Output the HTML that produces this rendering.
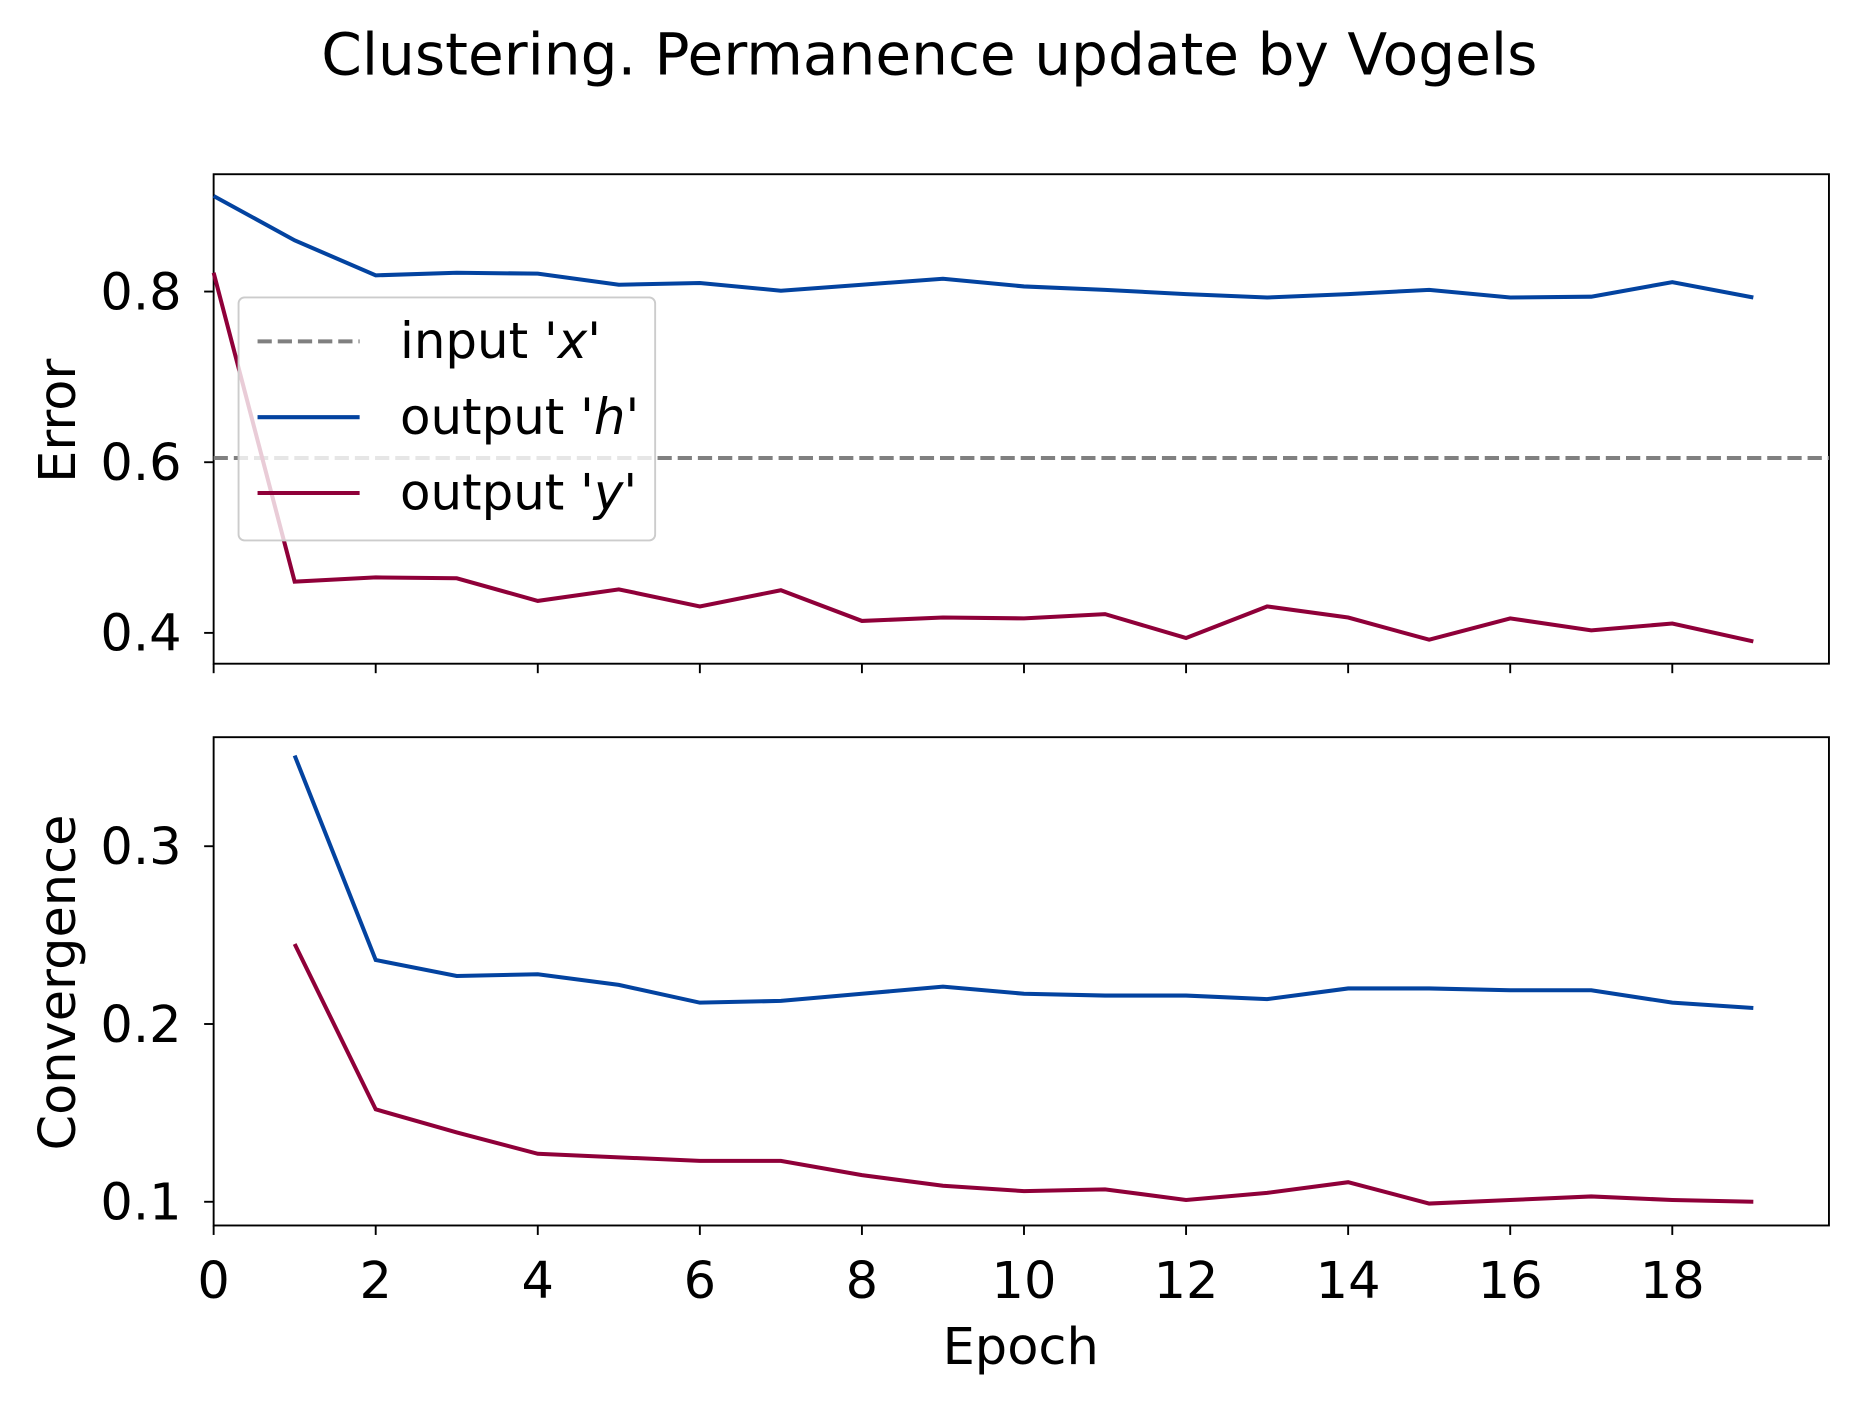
<!DOCTYPE html>
<html><head><meta charset="utf-8"><style>
html,body{margin:0;padding:0;background:#fff}
svg{display:block}
text{font-family:"DejaVu Sans","Liberation Sans",sans-serif;fill:#000}
</style></head><body>
<svg id="chart" width="1861" height="1408" viewBox="0 0 1568 1188" preserveAspectRatio="none" xmlns="http://www.w3.org/2000/svg">
<text x="783" y="63" font-size="49" text-anchor="middle">Clustering. Permanence update by Vogels</text>
<g id="g"></g>
</svg>
<script>
const epochs=[0,1,2,3,4,5,6,7,8,9,10,11,12,13,14,15,16,17,18,19];
const errH=[0.912,0.86,0.819,0.822,0.821,0.808,0.810,0.801,0.808,0.815,0.806,0.802,0.797,0.793,0.797,0.802,0.793,0.794,0.811,0.793];
const errY=[0.822,0.46,0.465,0.464,0.4375,0.451,0.431,0.45,0.414,0.418,0.417,0.422,0.394,0.431,0.418,0.392,0.417,0.403,0.411,0.39];
const inputX=0.605;
const convEpochs=[1,2,3,4,5,6,7,8,9,10,11,12,13,14,15,16,17,18,19];
const convH=[0.351,0.236,0.227,0.228,0.222,0.212,0.213,0.217,0.221,0.217,0.216,0.216,0.214,0.22,0.22,0.219,0.219,0.212,0.209];
const convY=[0.245,0.152,0.139,0.127,0.125,0.123,0.123,0.115,0.109,0.106,0.107,0.101,0.105,0.111,0.099,0.101,0.103,0.101,0.1];
const xTicks=[0,2,4,6,8,10,12,14,16,18];
const errTicks=[0.4,0.6,0.8];
const convTicks=[0.1,0.2,0.3];

const NS="http://www.w3.org/2000/svg";
const g=document.getElementById('g');
function el(t,a,txt){const e=document.createElementNS(NS,t);for(const k in a)e.setAttribute(k,a[k]);if(txt!==undefined)e.textContent=txt;g.appendChild(e);return e;}
const L=180,R=1541;
const FS=43;
const xs=v=>180+v*(1409-180)/18;
const y1=v=>246+(0.8-v)*720;
const y2=v=>1014-(v-0.1)*1500;
const BLUE="#0343a0",RED="#8f0039";
function line(xsArr,ys,ysc,col,name,dash){
  const p=el('polyline',{points:xsArr.map((x,i)=>xs(x)+','+ysc(ys[i])).join(' '),fill:'none',stroke:col,'stroke-width':3.4});
  if(dash)p.setAttribute('stroke-dasharray',dash);
  
  
}
let r=el('rect',{x:L,y:147,width:R-L,height:413,fill:'none',stroke:'#000','stroke-width':1.6});

r=el('rect',{x:L,y:622,width:R-L,height:412,fill:'none',stroke:'#000','stroke-width':1.6});

const d=el('line',{x1:L,x2:R,y1:y1(inputX),y2:y1(inputX),stroke:'#808080','stroke-width':3.4,'stroke-dasharray':'12,5'});


line(epochs,errH,y1,BLUE,'error-h-line');
line(epochs,errY,y1,RED,'error-y-line');
line(convEpochs,convH,y2,BLUE,'convergence-h-line');
line(convEpochs,convY,y2,RED,'convergence-y-line');
xTicks.forEach(t=>{
  el('line',{x1:xs(t),x2:xs(t),y1:560,y2:568,stroke:'#000','stroke-width':1.6});
  el('line',{x1:xs(t),x2:xs(t),y1:1034,y2:1042,stroke:'#000','stroke-width':1.6});
  const tx=el('text',{x:xs(t),y:1095,'font-size':FS,'text-anchor':'middle'},String(t));
  
  
});
errTicks.forEach(t=>{
  el('line',{x1:L-8,x2:L,y1:y1(t),y2:y1(t),stroke:'#000','stroke-width':1.6});
  const tx=el('text',{x:L-27,y:y1(t)+15,'font-size':FS,'text-anchor':'end'},t.toFixed(1));
  
  
});
convTicks.forEach(t=>{
  el('line',{x1:L-8,x2:L,y1:y2(t),y2:y2(t),stroke:'#000','stroke-width':1.6});
  const tx=el('text',{x:L-27,y:y2(t)+15,'font-size':FS,'text-anchor':'end'},t.toFixed(1));
  
  
});
let t=el('text',{x:860,y:1151,'font-size':FS,'text-anchor':'middle'},'Epoch');

t=el('text',{x:0,y:0,'font-size':FS,'text-anchor':'middle',transform:'translate(63,355) rotate(-90)'},'Error');

t=el('text',{x:0,y:0,'font-size':FS,'text-anchor':'middle',transform:'translate(63,829) rotate(-90)'},'Convergence');

const lb=el('rect',{x:201,y:251,width:351,height:205,rx:5,fill:'#fff','fill-opacity':0.8,stroke:'#ccc','stroke-width':1.6});

const items=[['#808080','input ','x','12,5',288],[BLUE,'output ','h',null,352],[RED,'output ','y',null,416]];
items.forEach(([c,a,b,dash,yy])=>{
  const ln=el('line',{x1:217,x2:303,y1:yy,y2:yy,stroke:c,'stroke-width':3.4});
  if(dash)ln.setAttribute('stroke-dasharray',dash);
  const tx=el('text',{x:337,y:yy+14,'font-size':42});
  
  
  const s1=document.createElementNS(NS,'tspan');s1.textContent=a+"'";tx.appendChild(s1);
  const s2=document.createElementNS(NS,'tspan');s2.setAttribute('font-style','italic');s2.textContent=b;tx.appendChild(s2);
  const s3=document.createElementNS(NS,'tspan');s3.textContent="'";tx.appendChild(s3);
});
</script>
</body></html>
